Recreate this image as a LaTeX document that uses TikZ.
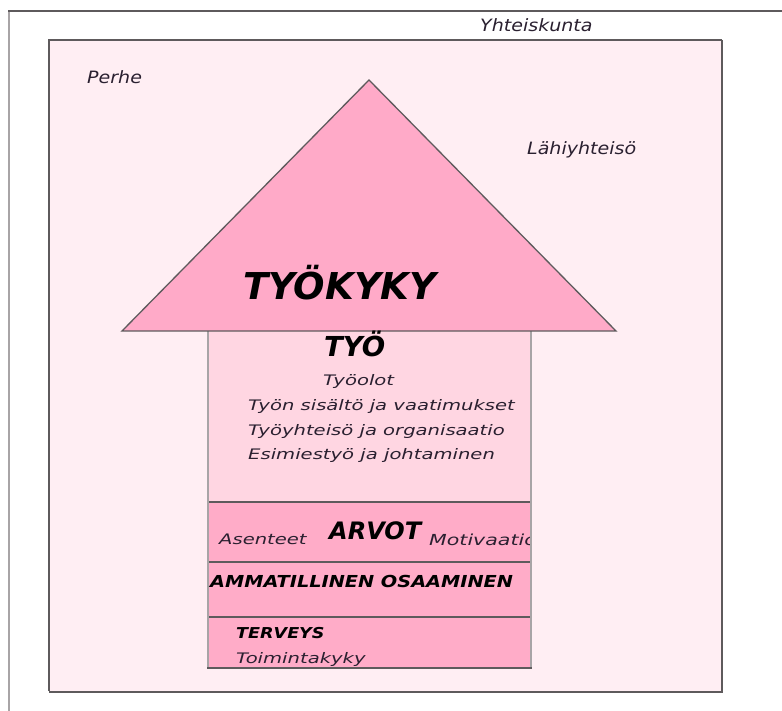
\documentclass[tikz,border=0pt]{standalone}
\usepackage{fontspec}
\setmainfont{DejaVu Sans}
\newfontfamily\fOut[FakeStretch=1.12]{DejaVu Sans}
\newfontfamily\fIn[FakeStretch=1.35]{DejaVu Sans}
\newfontfamily\fCap[FakeStretch=1.17]{DejaVu Sans}
\newfontfamily\fHead{DejaVu Sans}
\definecolor{bgpink}{HTML}{FFEEF3}
\definecolor{tripink}{HTML}{FFAAC8}
\definecolor{toppink}{HTML}{FFD6E2}
\definecolor{lowpink}{HTML}{FFACC8}
\definecolor{edge}{HTML}{5E5A5C}
\definecolor{lightedge}{HTML}{A8A4A6}
\definecolor{txt}{HTML}{2A2030}
\tikzset{
  outlbl/.style={inner sep=0pt, anchor=base west, text=txt, font=\fOut\itshape\fontsize{17}{20}\selectfont},
  worklbl/.style={inner sep=0pt, anchor=base west, text=txt, font=\fIn\itshape\fontsize{14.5}{17}\selectfont},
  head/.style={inner sep=0pt, anchor=base west, text=black},
  sep/.style={draw=edge, line width=1.6pt}
}
\begin{document}
\begin{tikzpicture}[x=1pt,y=-1pt]
\useasboundingbox (0,0) rectangle (782,711);
\fill[white] (0,0) rectangle (782,711);
% outer frame (Yhteiskunta)
\draw[lightedge, line width=2.5pt] (9,711) -- (9,11);
\draw[edge, line width=1.8pt] (8,11) -- (782,11);
% inner box (Perhe / Lahiyhteiso)
\fill[bgpink] (49,40) rectangle (722,691);
\draw[edge, line width=1.6pt] (49,691) -- (49,40) -- (722,40);
\draw[edge, line width=2.4pt] (722,40) -- (722,692) -- (49,692);
% column
\fill[toppink] (208,331) rectangle (531,502);
\fill[lowpink] (208,502) rectangle (531,667);
\begin{scope}
\clip (208,331) rectangle (531,667);
\node[worklbl, font=\fIn\itshape\fontsize{15.2}{18}\selectfont] (motiv) at (429,545) {Motivaatio};
\end{scope}
\draw[sep] (208,502) -- (531,502);
\draw[sep] (208,562) -- (531,562);
\draw[sep] (208,617) -- (531,617);
\draw[lightedge, line width=2.8pt] (208,331) -- (208,668);
\draw[lightedge, line width=2.8pt] (531,331) -- (531,668);
\draw[edge, line width=1.6pt] (207,668) -- (532,668);
% triangle
\filldraw[fill=tripink, draw=edge, line width=1.3pt] (122,331) -- (369,80) -- (616,331) -- cycle;
% texts
\node[outlbl] (yht) at (480,32) {Yhteiskunta};
\node[outlbl] (perhe) at (87,84) {Perhe};
\node[outlbl] (lahi) at (527,155) {Lähiyhteisö};
\node[head, font=\fHead\bfseries\itshape\fontsize{37}{42}\selectfont] (tyokyky) at (243,300) {TYÖKYKY};
\node[head, font=\fHead\bfseries\itshape\fontsize{27.5}{32}\selectfont] (tyo) at (324,356) {TYÖ};
\node[worklbl] (t1) at (323,385) {Työolot};
\node[worklbl] (t2) at (248,410) {Työn sisältö ja vaatimukset};
\node[worklbl] (t3) at (248,435) {Työyhteisö ja organisaatio};
\node[worklbl] (t4) at (248,459) {Esimiestyö ja johtaminen};
\node[worklbl] (asen) at (219,544) {Asenteet};
\node[head, font=\fHead\bfseries\itshape\fontsize{24}{28}\selectfont] (arvot) at (329,539) {ARVOT};
\node[head, font=\fCap\bfseries\itshape\fontsize{16.5}{20}\selectfont] (amm) at (210,587) {AMMATILLINEN OSAAMINEN};
\node[head, font=\fCap\bfseries\itshape\fontsize{15}{18}\selectfont] (terv) at (236,638) {TERVEYS};
\node[worklbl] (toim) at (236,663) {Toimintakyky};
\end{tikzpicture}
\end{document}
